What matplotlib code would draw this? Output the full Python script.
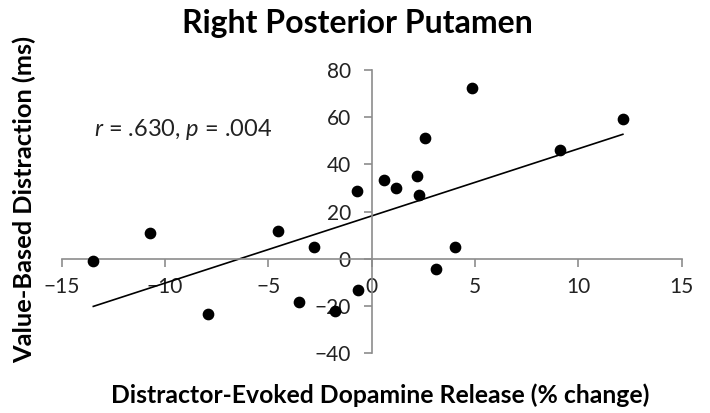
import numpy as np
import matplotlib
matplotlib.use("Agg")
import matplotlib.pyplot as plt

# values
dopamine_change = [-13.47, -10.73, -7.90, -4.55, -2.79, -3.53, -1.78, -0.73, -0.65,
                   0.61, 1.18, 2.21, 2.29, 2.59, 4.84, 4.03, 3.11, 9.12, 12.16]
distraction_ms = [-1.1, 11.0, -23.2, 12.0, 4.9, -18.2, -22.2, 28.9, -13.0,
                  33.2, 30.1, 35.0, 26.9, 51.1, 72.3, 4.9, -4.1, 46.2, 59.1]
x_ticks = [-15, -10, -5, 0, 5, 10, 15]
y_ticks = [-40, -20, 0, 20, 40, 60, 80]

plt.rcParams['font.family'] = ['Lato', 'DejaVu Sans']
plt.rcParams['mathtext.fontset'] = 'custom'
plt.rcParams['mathtext.it'] = 'Lato:italic'
plt.rcParams['mathtext.rm'] = 'Lato'

fig = plt.figure(figsize=(7.1, 4.13), dpi=100)
ax = fig.add_axes([0.0869, 0.1446, 0.873, 0.686])

x = np.array(dopamine_change)
y = np.array(distraction_ms)
ax.scatter(x, y, s=55, color='black', zorder=3)

# linear trendline over the data range
slope, intercept = np.polyfit(x, y, 1)
xs = np.array([x.min(), x.max()])
ax.plot(xs, slope * xs + intercept, color='black', linewidth=1.2)

ax.set_xlim(-15, 15)
ax.set_ylim(-40, 80)
ax.set_xticks(x_ticks)
ax.set_yticks(y_ticks)

ax.spines['left'].set_position(('data', 0))
ax.spines['bottom'].set_position(('data', 0))
ax.spines['right'].set_visible(False)
ax.spines['top'].set_visible(False)
for s in ['left', 'bottom']:
    ax.spines[s].set_color('#8c8c8c')
    ax.spines[s].set_linewidth(1.2)
ax.tick_params(axis='both', colors='#8c8c8c', length=6, width=1.2,
               labelcolor='#222222', labelsize=15)
ax.tick_params(axis='x', pad=7)
ax.tick_params(axis='y', pad=9)

ax.text(0.052, 0.79, r'$\it{r}$ = .630, $\it{p}$ = .004', transform=ax.transAxes,
        fontsize=17, ha='left', va='center', color='#222222')

fig.text(0.5035, 0.920, 'Right Posterior Putamen', ha='center', va='baseline',
         fontsize=23, fontweight='bold')
fig.text(0.535, 0.0235, 'Distractor-Evoked Dopamine Release (% change)', ha='center',
         va='baseline', fontsize=17.8, fontweight='bold')
fig.text(0.035, 0.516, 'Value-Based Distraction (ms)', ha='center', va='center',
         rotation=90, fontsize=18.3, fontweight='bold')

fig.savefig('out.png', dpi=100)
